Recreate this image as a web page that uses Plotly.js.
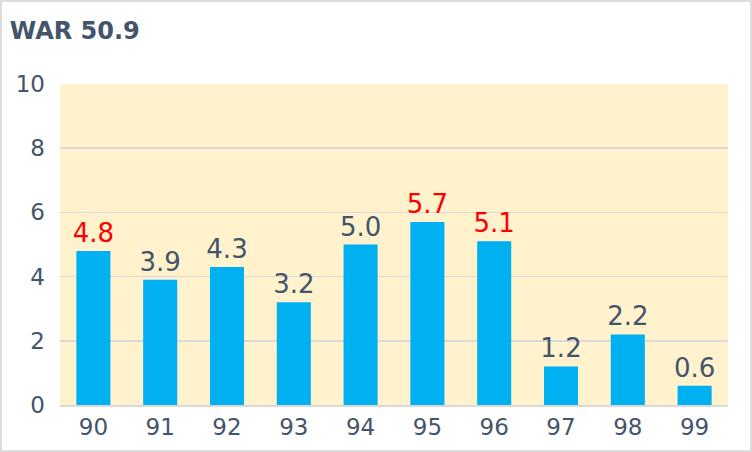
<!DOCTYPE html>
<html>
<head>
<meta charset="utf-8">
<script src="https://cdn.plot.ly/plotly-3.0.1.min.js"></script>
<style>
  body { margin: 0; background: #fff; }
  #wrap { position: relative; width: 752px; height: 452px; }
  #chart { width: 752px; height: 452px; }
  #frame { position: absolute; left: 0; top: 0; width: 752px; height: 452px;
           box-sizing: border-box; border: 2px solid #dcdcdc; pointer-events: none; }
</style>
</head>
<body>
<div id="wrap">
  <div id="chart"></div>
  <div id="frame"></div>
</div>
<script>
// WAR by season
var seasons = ["90", "91", "92", "93", "94", "95", "96", "97", "98", "99"];
var war = [4.8, 3.9, 4.3, 3.2, 5.0, 5.7, 5.1, 1.2, 2.2, 0.6];
// seasons highlighted in red
var highlight = [true, false, false, false, false, true, true, false, false, false];

var labelColors = highlight.map(function (h) { return h ? "#ff0000" : "#44546a"; });

var data = [{
  type: "bar",
  x: seasons,
  y: war,
  marker: { color: "#00b0f0" },
  text: war.map(function (v) { return v.toFixed(1); }),
  textposition: "outside",
  constraintext: "none",
  textfont: { family: "DejaVu Sans, sans-serif", size: 26, color: labelColors },
  cliponaxis: false,
  hoverinfo: "x+y"
}];

var layout = {
  width: 752,
  height: 452,
  margin: { l: 60, r: 24, t: 84, b: 47 },
  paper_bgcolor: "#ffffff",
  plot_bgcolor: "#fff2cc",
  bargap: 0.49,
  showlegend: false,
  font: { family: "DejaVu Sans, sans-serif", color: "#44546a" },
  title: {
    text: "<b>WAR 50.9</b>",
    x: 0.013, xanchor: "left",
    y: 0.932, yanchor: "middle",
    font: { size: 24, color: "#44546a" }
  },
  xaxis: {
    type: "category",
    tickfont: { size: 23, color: "#44546a" },
    showgrid: false,
    showline: true,
    linecolor: "#d9d9d9",
    linewidth: 2,
    ticks: "",
    ticklabelstandoff: 0
  },
  yaxis: {
    range: [0, 10],
    dtick: 2,
    tickfont: { size: 23, color: "#44546a" },
    gridcolor: "#dadada",
    gridwidth: 1.5,
    zeroline: false,
    showline: false,
    ticks: "",
    ticklabelstandoff: 14
  }
};

Plotly.newPlot("chart", data, layout, { displayModeBar: false, staticPlot: true });
</script>
</body>
</html>
